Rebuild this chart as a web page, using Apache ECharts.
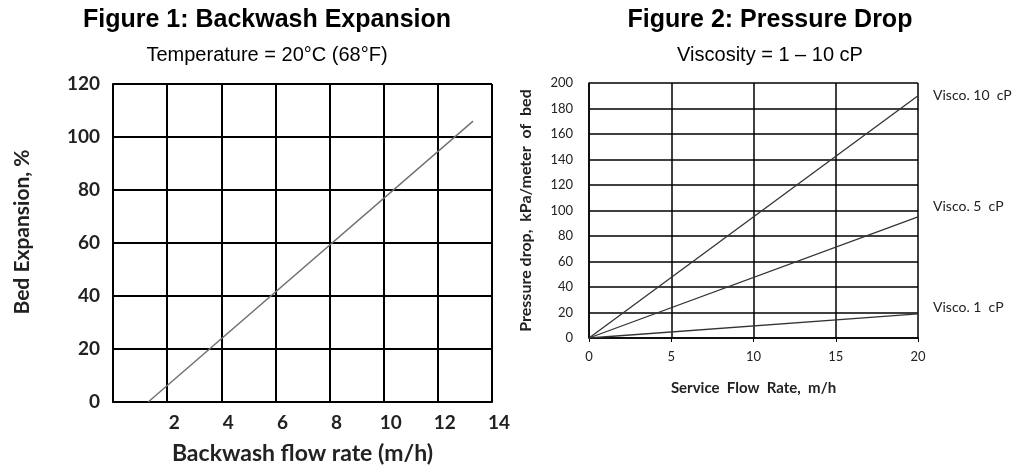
<!DOCTYPE html>
<html>
<head>
<meta charset="utf-8">
<script src="https://cdn.jsdelivr.net/npm/echarts@6/dist/echarts.min.js"></script>
<style>html,body{margin:0;padding:0;background:#fff;}#c{width:1025px;height:470px;}</style>
</head>
<body>
<div id="c"></div>
<script>
// Figure 1 data
const backwashFlow = [1.3, 13.3];
const bedExpansion = [0, 106];
// Figure 2 data
const serviceFlow = [0, 20];
const visco10 = [0, 190];
const visco5 = [0, 95];
const visco1 = [0, 19];
const seriesNames = ['Visco. 10  cP', 'Visco. 5  cP', 'Visco. 1  cP'];
const titles = ['Figure 1: Backwash Expansion', 'Figure 2: Pressure Drop'];
const subtitles = ['Temperature = 20°C (68°F)', 'Viscosity = 1 – 10 cP'];
const axisNames = ['Backwash flow rate (m/h)', 'Bed Expansion, %', 'Service  Flow  Rate,  m/h', 'Pressure drop,  kPa/meter  of  bed'];

const pairs = (xs, ys) => xs.map((x, i) => [x, ys[i]]);
const humanist = 'Lato, "Open Sans", sans-serif';
const arial = '"Liberation Sans", Arial, sans-serif';

const chart = echarts.init(document.getElementById('c'), null, {renderer: 'canvas'});
const gridLine = (w) => ({show: true, lineStyle: {color: '#000', width: w}});

chart.setOption({
  animation: false,
  backgroundColor: '#fff',
  title: [
    {text: titles[0], subtext: subtitles[0], left: 262, top: 3, textAlign: 'center', itemGap: 12,
     textStyle: {fontFamily: arial, fontWeight: 'bold', fontSize: 25, color: '#000'},
     subtextStyle: {fontFamily: arial, fontSize: 20, color: '#000'}},
    {text: titles[1], subtext: subtitles[1], left: 765, top: 3, textAlign: 'center', itemGap: 12,
     textStyle: {fontFamily: arial, fontWeight: 'bold', fontSize: 25, color: '#000'},
     subtextStyle: {fontFamily: arial, fontSize: 20, color: '#000'}}
  ],
  grid: [
    {left: 113, top: 84, width: 379, height: 319, containLabel: false},
    {left: 589, top: 83, width: 329, height: 255, containLabel: false}
  ],
  xAxis: [
    {gridIndex: 0, type: 'value', min: 0, max: 14, interval: 2,
     name: axisNames[0], nameLocation: 'middle', nameGap: 40,
     nameTextStyle: {fontFamily: humanist, fontWeight: 'bold', fontSize: 23, color: '#222'},
     axisLine: {lineStyle: {color: '#000', width: 2}}, axisTick: {show: false},
     axisLabel: {showMinLabel: false, fontFamily: humanist, fontWeight: 'bold', fontSize: 19, color: '#222', margin: 11, padding: [0, 0, 0, 14]},
     splitLine: gridLine(2)},
    {gridIndex: 1, type: 'value', min: 0, max: 20, interval: 5,
     name: axisNames[2], nameLocation: 'middle', nameGap: 43,
     nameTextStyle: {fontFamily: humanist, fontWeight: 'bold', fontSize: 15, color: '#222'},
     axisLine: {lineStyle: {color: '#000', width: 1.5}}, axisTick: {show: true, length: 4, inside: false, lineStyle: {color: '#000'}},
     axisLabel: {fontFamily: humanist, fontSize: 13, color: '#222', margin: 12},
     splitLine: gridLine(1.5)}
  ],
  yAxis: [
    {gridIndex: 0, type: 'value', min: 0, max: 120, interval: 20,
     name: axisNames[1], nameLocation: 'middle', nameGap: 80,
     nameTextStyle: {fontFamily: humanist, fontWeight: 'bold', fontSize: 21, color: '#222', padding: [0, 0, 0, 22]},
     axisLine: {lineStyle: {color: '#000', width: 2}}, axisTick: {show: false},
     axisLabel: {fontFamily: humanist, fontWeight: 'bold', fontSize: 19, color: '#222', margin: 13},
     splitLine: gridLine(2)},
    {gridIndex: 1, type: 'value', min: 0, max: 200, interval: 20,
     name: axisNames[3], nameLocation: 'middle', nameGap: 55,
     nameTextStyle: {fontFamily: humanist, fontWeight: 'bold', fontSize: 16, color: '#222'},
     axisLine: {lineStyle: {color: '#000', width: 1.5}}, axisTick: {show: false},
     axisLabel: {fontFamily: humanist, fontSize: 13, color: '#222', margin: 16},
     splitLine: gridLine(1.5)}
  ],
  series: [
    {type: 'line', xAxisIndex: 0, yAxisIndex: 0, data: pairs(backwashFlow, bedExpansion),
     showSymbol: false, lineStyle: {color: '#707070', width: 1.4}},
    {type: 'line', name: seriesNames[0], xAxisIndex: 1, yAxisIndex: 1, data: pairs(serviceFlow, visco10),
     showSymbol: false, lineStyle: {color: '#333', width: 1.3},
     endLabel: {show: true, formatter: '{a}', distance: 15, offset: [0, 0], fontFamily: humanist, fontSize: 14, color: '#222'}},
    {type: 'line', name: seriesNames[1], xAxisIndex: 1, yAxisIndex: 1, data: pairs(serviceFlow, visco5),
     showSymbol: false, lineStyle: {color: '#333', width: 1.3},
     endLabel: {show: true, formatter: '{a}', distance: 15, offset: [0, -10], fontFamily: humanist, fontSize: 14, color: '#222'}},
    {type: 'line', name: seriesNames[2], xAxisIndex: 1, yAxisIndex: 1, data: pairs(serviceFlow, visco1),
     showSymbol: false, lineStyle: {color: '#333', width: 1.3},
     endLabel: {show: true, formatter: '{a}', distance: 15, offset: [0, -6], fontFamily: humanist, fontSize: 14, color: '#222'}}
  ]
});
</script>
</body>
</html>
